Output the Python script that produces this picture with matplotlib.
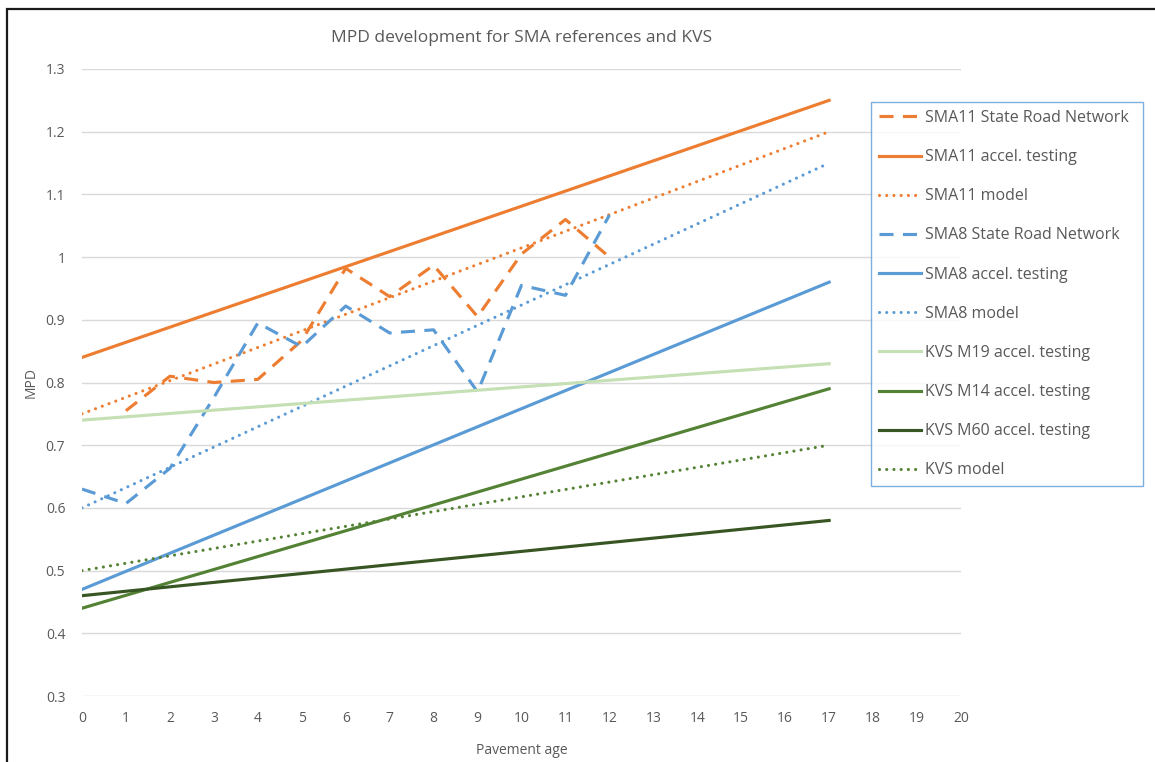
import matplotlib
matplotlib.use("Agg")
import matplotlib.pyplot as plt
from matplotlib.patches import Rectangle
from matplotlib.ticker import FuncFormatter

plt.rcParams['font.family'] = ['Open Sans', 'DejaVu Sans']

# ---- data ----
road_ages_sma11 = [1, 2, 3, 4, 5, 6, 7, 8, 9, 10, 11, 12]
sma11_road = [0.755, 0.81, 0.80, 0.805, 0.867, 0.982, 0.937, 0.987, 0.905, 1.005, 1.06, 1.0]
road_ages_sma8 = [0, 1, 2, 3, 4, 5, 6, 7, 8, 9, 10, 11, 12]
sma8_road = [0.63, 0.607, 0.663, 0.776, 0.895, 0.857, 0.922, 0.879, 0.884, 0.785, 0.955, 0.939, 1.067]

line_ages = [0, 17]
sma11_accel = [0.84, 1.25]
sma11_model = [0.75, 1.20]
sma8_accel = [0.47, 0.96]
sma8_model = [0.60, 1.15]
kvs_m19_accel = [0.74, 0.83]
kvs_m14_accel = [0.44, 0.79]
kvs_m60_accel = [0.46, 0.58]
kvs_model = [0.50, 0.70]

labels = ["SMA11 State Road Network", "SMA11 accel. testing", "SMA11 model",
          "SMA8 State Road Network", "SMA8 accel. testing", "SMA8 model",
          "KVS M19 accel. testing", "KVS M14 accel. testing", "KVS M60 accel. testing",
          "KVS model"]

x_ticks = list(range(0, 21))
y_ticks = [0.3, 0.4, 0.5, 0.6, 0.7, 0.8, 0.9, 1.0, 1.1, 1.2, 1.3]

# ---- style ----
ORANGE = "#ED7D31"
BLUE = "#5B9BD5"
LGREEN = "#C5E0B4"
GREEN = "#548235"
DGREEN = "#375623"
TXT = "#595959"
LW = 2.25

fig = plt.figure(figsize=(11.55, 7.62), dpi=100)
ax = fig.add_axes([82/1155, 1-696/762, (961-82)/1155, (696-69)/762])

dashed = dict(linestyle=(0, (4.5, 3.0)), dash_capstyle='butt')
dotted = dict(linestyle=(0, (0.01, 2.3)), dash_capstyle='round')

ax.plot(road_ages_sma11, sma11_road, color=ORANGE, lw=LW, label=labels[0], **dashed)
ax.plot(line_ages, sma11_accel, color=ORANGE, lw=LW, label=labels[1])
ax.plot(line_ages, sma11_model, color=ORANGE, lw=LW, label=labels[2], **dotted)
ax.plot(road_ages_sma8, sma8_road, color=BLUE, lw=LW, label=labels[3], **dashed)
ax.plot(line_ages, sma8_accel, color=BLUE, lw=LW, label=labels[4])
ax.plot(line_ages, sma8_model, color=BLUE, lw=LW, label=labels[5], **dotted)
ax.plot(line_ages, kvs_m19_accel, color=LGREEN, lw=LW, label=labels[6])
ax.plot(line_ages, kvs_m14_accel, color=GREEN, lw=LW, label=labels[7])
ax.plot(line_ages, kvs_m60_accel, color=DGREEN, lw=LW, label=labels[8])
ax.plot(line_ages, kvs_model, color=GREEN, lw=LW, label=labels[9], **dotted)

ax.set_xlim(0, 20)
ax.set_ylim(0.3, 1.3)
ax.set_xticks(x_ticks)
ax.set_yticks(y_ticks)
ax.yaxis.set_major_formatter(FuncFormatter(lambda v, p: ("%g" % round(v, 2))))
ax.grid(axis='y', color="#D9D9D9", lw=1)
ax.set_axisbelow(True)
for s in ax.spines.values():
    s.set_visible(False)
ax.tick_params(length=0, colors=TXT, labelsize=10)
ax.tick_params(axis='y', pad=12)
ax.tick_params(axis='x', pad=11)

ax.set_xlabel("Pavement age", color=TXT, fontsize=10, labelpad=12)
ax.set_ylabel("MPD", color=TXT, fontsize=10, labelpad=5)
fig.text((82+961)/2/1155, 1-38/762, "MPD development for SMA references and KVS",
         ha='center', va='center', color=TXT, fontsize=12.5)

leg = ax.legend(loc='upper left',
                bbox_to_anchor=(871/1155, 1-495/762, (1143-871)/1155, (495-102)/762),
                bbox_transform=fig.transFigure, mode='expand', fontsize=11.5,
                labelspacing=1.45, handlelength=2.6, handletextpad=0.25,
                borderpad=0.5, borderaxespad=0.0, frameon=True, fancybox=False,
                labelcolor=TXT)
leg.get_frame().set_edgecolor(BLUE)
leg.get_frame().set_linewidth(1.0)

fig.patches.append(Rectangle((7/1155, -0.05), 1.1, 1-9/762+0.05, transform=fig.transFigure,
                             fill=False, edgecolor="#1a1a1a", lw=1.6))

fig.savefig("out.png", dpi=100)
